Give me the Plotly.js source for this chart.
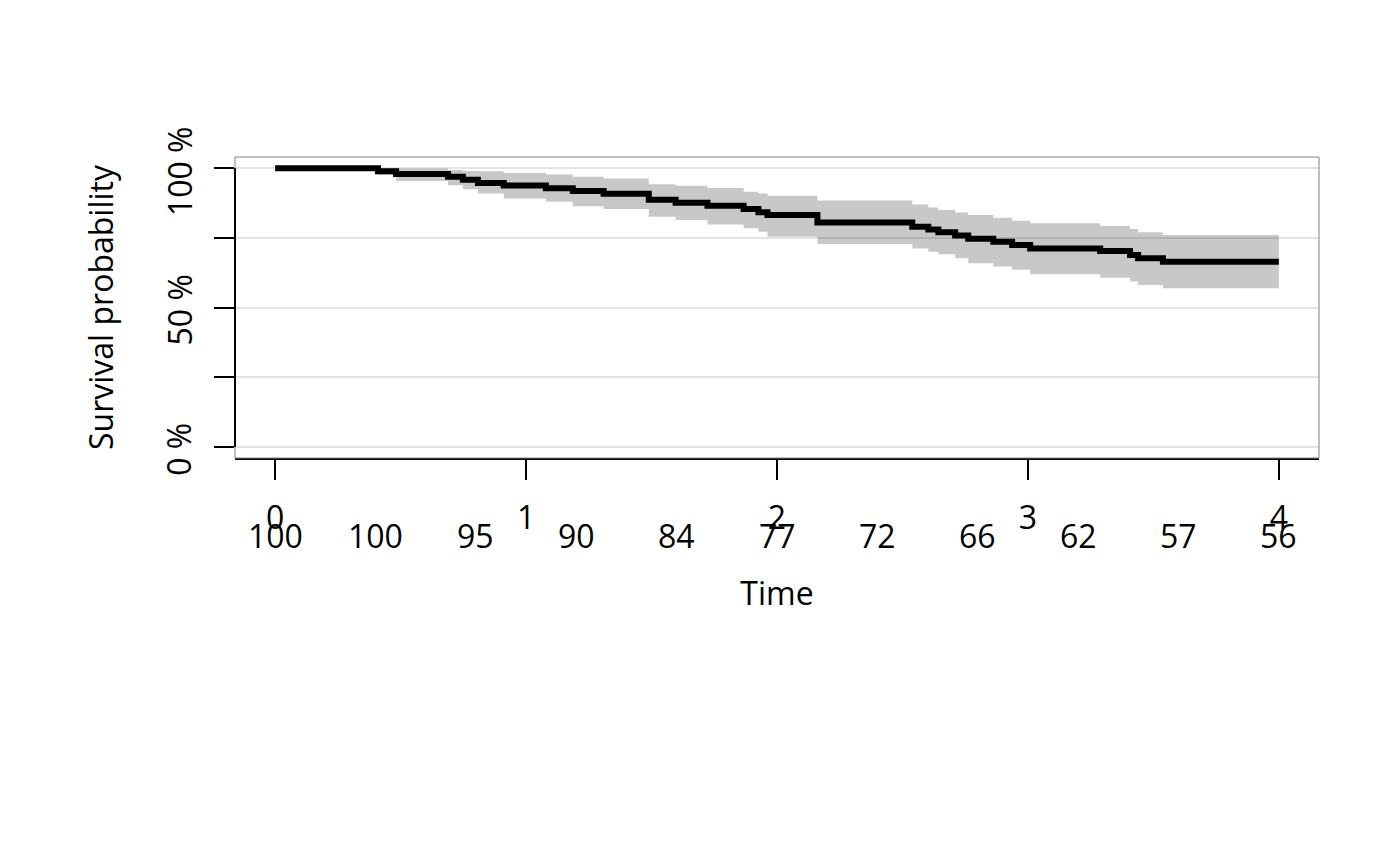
<!DOCTYPE html>
<html>
<head>
<meta charset="utf-8">
<script src="https://cdn.plot.ly/plotly-3.0.1.min.js"></script>
<style>
  html, body { margin: 0; padding: 0; background: #ffffff; }
  #chart { width: 1400px; height: 866px; }
</style>
</head>
<body>
<div id="chart"></div>
<script>
// ---- data ----
// event times (years) and Kaplan-Meier survival (%) right after each event
const eventTimes = [0.410, 0.482, 0.689, 0.748, 0.808, 0.911, 1.079, 1.186, 1.309, 1.489,
                    1.596, 1.723, 1.867, 1.926, 1.962, 2.161, 2.539, 2.603, 2.643, 2.710,
                    2.762, 2.862, 2.937, 3.009, 3.288, 3.407, 3.439, 3.538];
const survival   = [98.9, 97.9, 96.9, 95.8, 94.7, 93.8, 92.8, 91.8, 90.8, 88.7,
                    87.6, 86.5, 85.3, 84.2, 83.2, 80.5, 79.0, 78.0, 77.0, 75.8,
                    74.7, 73.6, 72.4, 71.2, 70.3, 68.8, 67.7, 66.4];
const upperCI    = [100, 99.9, 99.3, 99.0, 98.9, 98.3, 97.7, 96.9, 96.3, 94.2,
                    93.7, 92.9, 91.5, 90.9, 90.1, 88.4, 87.0, 85.9, 85.0, 84.1,
                    83.2, 82.2, 81.1, 80.2, 79.2, 78.2, 77.0, 76.0];
const lowerCI    = [97.5, 95.4, 93.9, 92.4, 90.9, 89.1, 87.9, 86.3, 85.3, 82.6,
                    81.4, 79.8, 78.4, 77.2, 75.4, 72.8, 71.2, 70.0, 69.1, 67.7,
                    65.9, 64.7, 63.5, 61.9, 60.7, 59.3, 58.1, 56.9];
const startTime = 0;
const startSurvival = 100;
const endTime = 4;

// numbers at risk
const riskTimes  = [0, 0.4, 0.8, 1.2, 1.6, 2.0, 2.4, 2.8, 3.2, 3.6, 4.0];
const riskCounts = [100, 100, 95, 90, 84, 77, 72, 66, 62, 57, 56];

// axis ticks
const xTickVals = [0, 1, 2, 3, 4];
const xTickText = ['0', '1', '2', '3', '4'];
const yTickVals = [0, 25, 50, 75, 100];
const yTickText = ['0 %', '', '50 %', '', '100 %'];

// ---- build traces ----
const last = a => a[a.length - 1];
const lineX = [startTime].concat(eventTimes, [endTime]);
const lineY = [startSurvival].concat(survival, [last(survival)]);
const bandX = eventTimes.concat([endTime]);
const bandU = upperCI.concat([last(upperCI)]);
const bandL = lowerCI.concat([last(lowerCI)]);

const FONT = 'Open Sans, Noto Sans, sans-serif';
const FS = 32;

const traces = [
  { x: bandX, y: bandU, type: 'scatter', mode: 'lines',
    line: { shape: 'hv', width: 0, color: 'rgba(0,0,0,0)' },
    hoverinfo: 'skip', showlegend: false },
  { x: bandX, y: bandL, type: 'scatter', mode: 'lines',
    line: { shape: 'hv', width: 0, color: 'rgba(0,0,0,0)' },
    fill: 'tonexty', fillcolor: 'rgba(0,0,0,0.215)',
    hoverinfo: 'skip', showlegend: false },
  { x: lineX, y: lineY, type: 'scatter', mode: 'lines',
    line: { shape: 'hv', width: 6, color: '#000000' },
    showlegend: false }
];

// number-at-risk row
const annotations = riskTimes.map((t, i) => ({
  x: t, xref: 'x', y: 0, yref: 'paper',
  text: String(riskCounts[i]), showarrow: false,
  xanchor: 'center', yanchor: 'middle', yshift: -77,
  font: { family: FONT, size: FS, color: '#000000' }
}));
// y tick labels (rotated, parallel to the axis)
yTickVals.forEach((v, i) => {
  if (!yTickText[i]) return;
  annotations.push({
    x: 0, xref: 'paper', y: v, yref: 'y',
    text: yTickText[i], showarrow: false, textangle: -90,
    xanchor: 'center', yanchor: 'middle', xshift: -56, yshift: -3,
    font: { family: FONT, size: FS, color: '#000000' }
  });
});

const layout = {
  width: 1400, height: 866,
  margin: { l: 235, r: 81, t: 157, b: 408, pad: 0 },
  paper_bgcolor: '#ffffff', plot_bgcolor: '#ffffff',
  font: { family: FONT, size: FS, color: '#000000' },
  showlegend: false,
  xaxis: {
    range: [-0.16, 4.16], tickvals: xTickVals, ticktext: xTickText,
    ticks: 'outside', ticklen: 20, tickwidth: 2, tickcolor: '#000000',
    ticklabelstandoff: 11,
    showgrid: false, zeroline: false,
    showline: true, linecolor: '#000000', linewidth: 2,
    tickfont: { family: FONT, size: FS, color: '#000000' },
    title: { text: 'Time', standoff: 45, font: { family: FONT, size: FS, color: '#000000' } },
    automargin: false, fixedrange: true
  },
  yaxis: {
    range: [-4, 104], tickvals: yTickVals, ticktext: yTickText,
    showticklabels: false,
    ticks: 'outside', ticklen: 20, tickwidth: 2, tickcolor: '#000000',
    showgrid: true, gridcolor: '#e3e3e3', gridwidth: 2,
    zeroline: false, showline: false,
    title: { text: 'Survival probability', standoff: 90, font: { family: FONT, size: FS, color: '#000000' } },
    automargin: false, fixedrange: true
  },
  shapes: [
    { type: 'rect', xref: 'paper', yref: 'paper', x0: 0, x1: 1, y0: 0, y1: 1,
      line: { color: '#808080', width: 1 }, fillcolor: 'rgba(0,0,0,0)', layer: 'above' },
    { type: 'line', xref: 'paper', yref: 'y', x0: 0, x1: 0, y0: 0, y1: 100,
      line: { color: '#000000', width: 2 }, layer: 'above' }
  ],
  annotations: annotations
};

Plotly.newPlot('chart', traces, layout, { displayModeBar: false, staticPlot: true });
</script>
</body>
</html>
